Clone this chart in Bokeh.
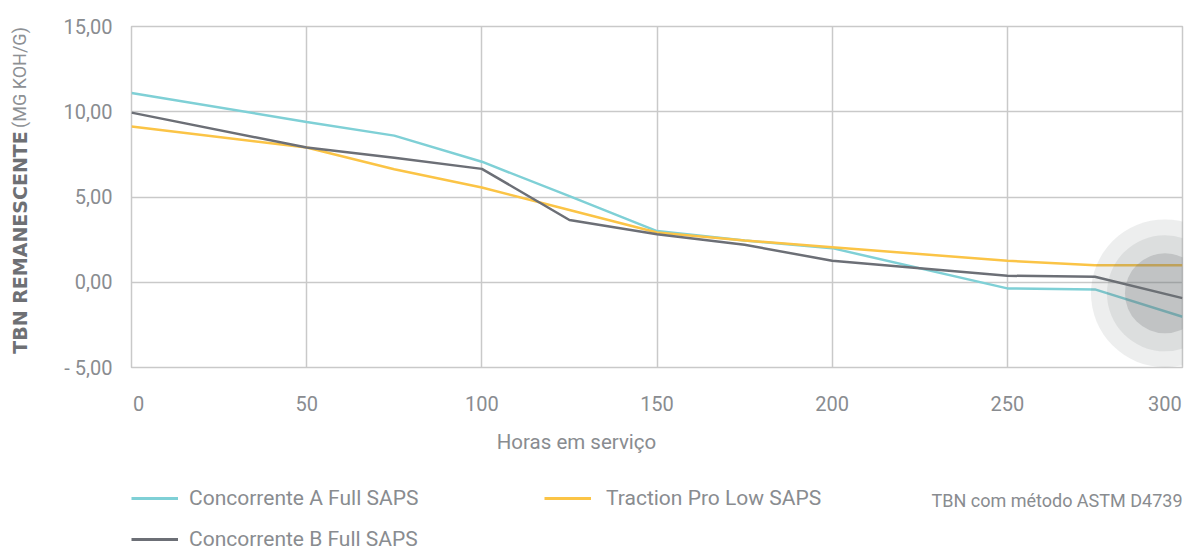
from math import pi
from bokeh.plotting import figure
from bokeh.layouts import row, column
from bokeh.models import Range1d, FixedTicker, Legend, LegendItem
from bokeh.core.properties import value
from bokeh.embed import file_html
from bokeh.resources import INLINE

# ---------------- data ----------------
hours = [0, 50, 75, 100, 125, 150, 175, 200, 250, 275, 300]
conc_a = [11.1, 9.4, 8.6, 7.07, 5.05, 3.0, 2.45, 2.0, -0.36, -0.42, -2.02]
conc_b = [9.95, 7.9, 7.3, 6.65, 3.65, 2.82, 2.2, 1.26, 0.38, 0.32, -0.93]
traction = [9.13, 7.9, 6.63, 5.56, 4.24, 2.92, 2.45, 2.05, 1.26, 1.0, 1.0]

name_a = "Concorrente A Full SAPS"
name_b = "Concorrente B Full SAPS"
name_t = "Traction Pro Low SAPS"

y_ticks = [-5, 0, 5, 10, 15]
y_tick_labels = ["- 5,00", "0,00", "5,00", "10,00", "15,00"]
x_ticks = [0, 50, 100, 150, 200, 250, 300]
x_tick_labels = ["0", "50", "100", "150", "200", "250", "300"]

x_title = "Horas em serviço"
y_title_bold = "TBN REMANESCENTE"
y_title_unit = "(MG KOH/G)"
note = "TBN com método ASTM D4739"

# ---------------- style ----------------
C_A = "#7fd0d6"
C_B = "#6c6f76"
C_T = "#fbc446"
GRID = "#c9c9c9"
TXT = "#898c90"
FONT = "Roboto"

W_LEFT = 40
MAIN_W, MAIN_H = 1145, 420
TOP_B, BOT_B = 26, 53
LEG_H = 131
NAN = float("nan")


def bare_fig(w, h, y0=0, y1=None, top=0, bottom=0):
    f = figure(width=w, height=h, output_backend="svg", toolbar_location=None,
               x_range=Range1d(0, w), y_range=Range1d(y0, h if y1 is None else y1),
               title=None, x_axis_location=None, y_axis_location=None,
               min_border=0, min_border_top=top, min_border_bottom=bottom)
    f.grid.visible = False
    f.outline_line_color = None
    f.background_fill_color = "white"
    f.border_fill_color = "white"
    return f


# ---------------- main chart ----------------
p = figure(width=MAIN_W, height=MAIN_H, output_backend="svg", toolbar_location=None,
           x_range=Range1d(0, 300), y_range=Range1d(-5, 15), title=None,
           min_border_left=91, min_border_right=3, min_border_top=TOP_B,
           min_border_bottom=BOT_B)
p.background_fill_color = "white"
p.border_fill_color = "white"
p.outline_line_color = GRID
p.outline_line_width = 1.5

p.xgrid.ticker = FixedTicker(ticks=x_ticks)
p.ygrid.ticker = FixedTicker(ticks=y_ticks)
for g in (p.xgrid, p.ygrid):
    g.grid_line_color = GRID
    g.grid_line_width = 1.5

lab_pos = list(x_ticks)
lab_pos[0] = x_ticks[0] + 2
lab_pos[-1] = x_ticks[-1] - 5
p.xaxis.ticker = FixedTicker(ticks=lab_pos)
p.xaxis.major_label_overrides = {pos: lbl for pos, lbl in zip(lab_pos, x_tick_labels)}
p.yaxis.ticker = FixedTicker(ticks=y_ticks)
p.yaxis.major_label_overrides = {t: l for t, l in zip(y_ticks, y_tick_labels)}
for ax in (p.xaxis, p.yaxis):
    ax.axis_line_color = None
    ax.major_tick_line_color = None
    ax.minor_tick_line_color = None
    ax.major_tick_out = 0
    ax.major_tick_in = 0
    ax.major_label_text_font = FONT
    ax.major_label_text_font_size = "20px"
    ax.major_label_text_color = TXT
p.xaxis.major_label_standoff = 28
p.yaxis.major_label_standoff = 19

p.line(hours, conc_a, line_color=C_A, line_width=2.5)
p.line(hours, traction, line_color=C_T, line_width=2.5)
p.line(hours, conc_b, line_color=C_B, line_width=2.5)

# highlight circles at the end of the series
end_x = hours[-1] - 5
end_y = (conc_a[-1] + conc_b[-1] + traction[-1]) / 3.0
for size, alpha in ((148, 0.12), (116, 0.13), (80, 0.25)):
    p.scatter([end_x], [end_y], marker="circle", size=size,
              fill_color="#6f7577", fill_alpha=alpha, line_color=None)

# ---------------- y title panel (y = MAIN_H - page y) ----------------
py = bare_fig(W_LEFT, MAIN_H, y0=BOT_B, y1=MAIN_H - TOP_B, top=TOP_B, bottom=BOT_B)
py.text(x=[19], y=[MAIN_H - 242], text=[y_title_bold], angle=pi / 2,
        text_align="center", text_baseline="middle",
        text_font=value("DejaVu Sans"), text_font_style="bold",
        text_font_size="19px", text_color="#6e7074")
py.text(x=[19], y=[MAIN_H - 77], text=[y_title_unit], angle=pi / 2,
        text_align="center", text_baseline="middle",
        text_font=value(FONT), text_font_size="18px", text_color="#8d9094")

# ---------------- legend / notes panel ----------------
W_ALL = W_LEFT + MAIN_W
pl = bare_fig(W_ALL, LEG_H)
top = MAIN_H  # page y of the top of this panel

pl.text(x=[576], y=[LEG_H - (441 - top)], text=[x_title], text_align="center",
        text_baseline="middle", text_font=value(FONT), text_font_size="20.5px",
        text_color=TXT)
pl.text(x=[1182], y=[LEG_H - (500 - top)], text=[note], text_align="right",
        text_baseline="middle", text_font=value(FONT), text_font_size="18px",
        text_color=TXT)

# legend-only renderers (no visible data)
la = pl.line([NAN], [NAN], line_color=C_A, line_width=3)
lt = pl.line([NAN], [NAN], line_color=C_T, line_width=3)
lb = pl.line([NAN], [NAN], line_color=C_B, line_width=3)


def make_legend(label, r, loc, standoff):
    lg = Legend(items=[LegendItem(label=label, renderers=[r])], location=loc,
                orientation="vertical", glyph_width=47, glyph_height=20,
                label_height=20, label_standoff=standoff, padding=0, margin=0,
                spacing=0, border_line_color=None, background_fill_alpha=0,
                label_text_font=FONT, label_text_font_size="21px",
                label_text_color=TXT)
    pl.add_layout(lg, "center")


make_legend(name_a, la, (131, LEG_H - (510 - top)), 11)
make_legend(name_t, lt, (544, LEG_H - (510 - top)), 15)
make_legend(name_b, lb, (131, 0), 11)

layout = column(row(py, p, spacing=0), pl, spacing=0)
open("out.html", "w").write(file_html(layout, INLINE))
